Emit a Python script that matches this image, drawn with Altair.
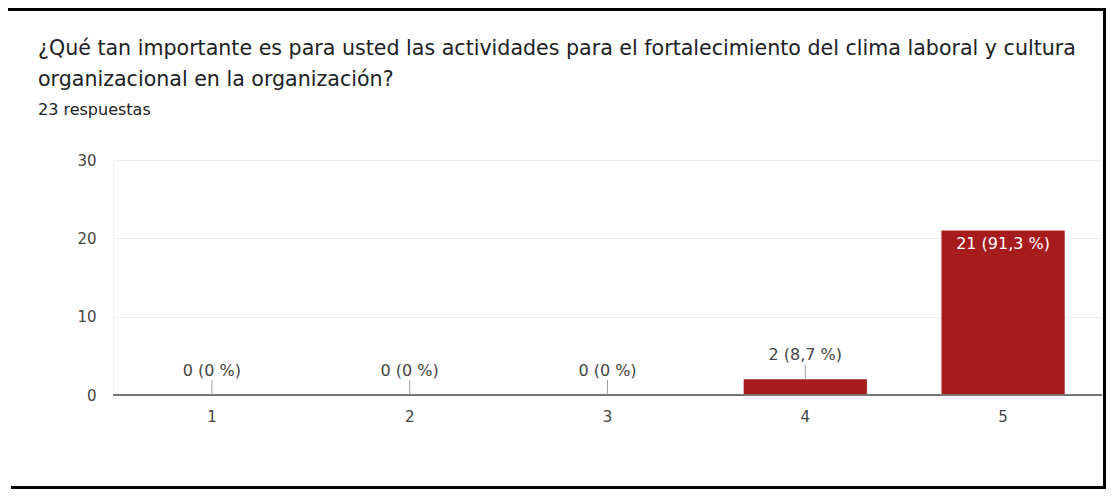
import altair as alt
import pandas as pd

categories = ["1", "2", "3", "4", "5"]
counts = [0, 0, 0, 2, 21]
labels = ["0 (0 %)", "0 (0 %)", "0 (0 %)", "2 (8,7 %)", "21 (91,3 %)"]
title_lines = [
    "¿Qué tan importante es para usted las actividades para el fortalecimiento del clima laboral y cultura",
    "organizacional en la organización?",
]
subtitle = "23 respuestas"
y_grid_values = [0, 5, 10, 15, 20, 25, 30]

df = pd.DataFrame({"opcion": categories, "respuestas": counts, "etiqueta": labels})

FONT = "DejaVu Sans"
RED = "#a61c1c"
TXT = "#444444"

x_enc = alt.X(
    "opcion:N",
    sort=categories,
    scale=alt.Scale(paddingInner=0.377, paddingOuter=0.1885),
    axis=alt.Axis(
        title=None, labelAngle=0, ticks=False, domain=False, grid=False,
        labelPadding=14, labelFontSize=15, labelColor=TXT, labelFont=FONT,
    ),
)
y_enc = alt.Y(
    "respuestas:Q",
    scale=alt.Scale(domain=[0, 30], nice=False),
    axis=alt.Axis(
        title=None, values=y_grid_values,
        labelExpr="datum.value % 10 == 0 ? datum.label : ''",
        ticks=False, domain=False, gridColor="#eeeeee", gridWidth=1,
        labelPadding=17, labelFontSize=15, labelColor=TXT, labelFont=FONT,
    ),
)

base = alt.Chart(df)
bars = base.mark_bar(color=RED).encode(x=x_enc, y=y_enc)

zero = alt.Chart(pd.DataFrame({"z": [0]})).mark_rule(color="#757575", strokeWidth=2).encode(
    y=alt.datum(0)
)

outside = base.transform_filter("datum.respuestas < 5")
leaders = outside.transform_calculate(tope="datum.respuestas + 1.9").mark_rule(
    color="#9e9e9e", strokeWidth=1
).encode(x=alt.X("opcion:N", sort=categories), y="respuestas:Q", y2="tope:Q")
out_text = outside.mark_text(
    baseline="bottom", dy=-16, font=FONT, fontSize=16, color=TXT
).encode(x=alt.X("opcion:N", sort=categories), y="respuestas:Q", text="etiqueta:N")
in_text = base.transform_filter("datum.respuestas >= 5").mark_text(
    baseline="top", dy=5, font=FONT, fontSize=16, color="white"
).encode(x=alt.X("opcion:N", sort=categories), y="respuestas:Q", text="etiqueta:N")

frame_df = pd.DataFrame({"k": [0]})
top_border = alt.Chart(frame_df).mark_rule(color="black", strokeWidth=3).encode(
    x=alt.value(-105), x2=alt.value(993), y=alt.value(-150.5)
)
right_border = alt.Chart(frame_df).mark_rule(color="black", strokeWidth=3).encode(
    x=alt.value(991.5), y=alt.value(-152), y2=alt.value(329)
)
bottom_border = alt.Chart(frame_df).mark_rule(color="black", strokeWidth=3).encode(
    x=alt.value(-102), x2=alt.value(993), y=alt.value(327.5)
)

chart = alt.layer(
    bars, zero, leaders, out_text, in_text, top_border, right_border, bottom_border
).properties(
    width=989,
    height=235,
    autosize="none",
    padding={"left": 105, "top": 152, "right": 4, "bottom": 94},
    title=alt.Title(
        text=title_lines,
        subtitle=subtitle,
        anchor="start",
        frame="group",
        dx=-75,
        offset=-111,
        font=FONT,
        fontSize=20.6,
        fontWeight="normal",
        color="#202124",
        lineHeight=31,
        subtitleFont=FONT,
        subtitleFontSize=16,
        subtitleColor="#202124",
        subtitlePadding=11,
    ),
).configure_view(stroke="#eeeeee")

chart.save("out.html", embed_options={"renderer": "svg", "actions": False})
